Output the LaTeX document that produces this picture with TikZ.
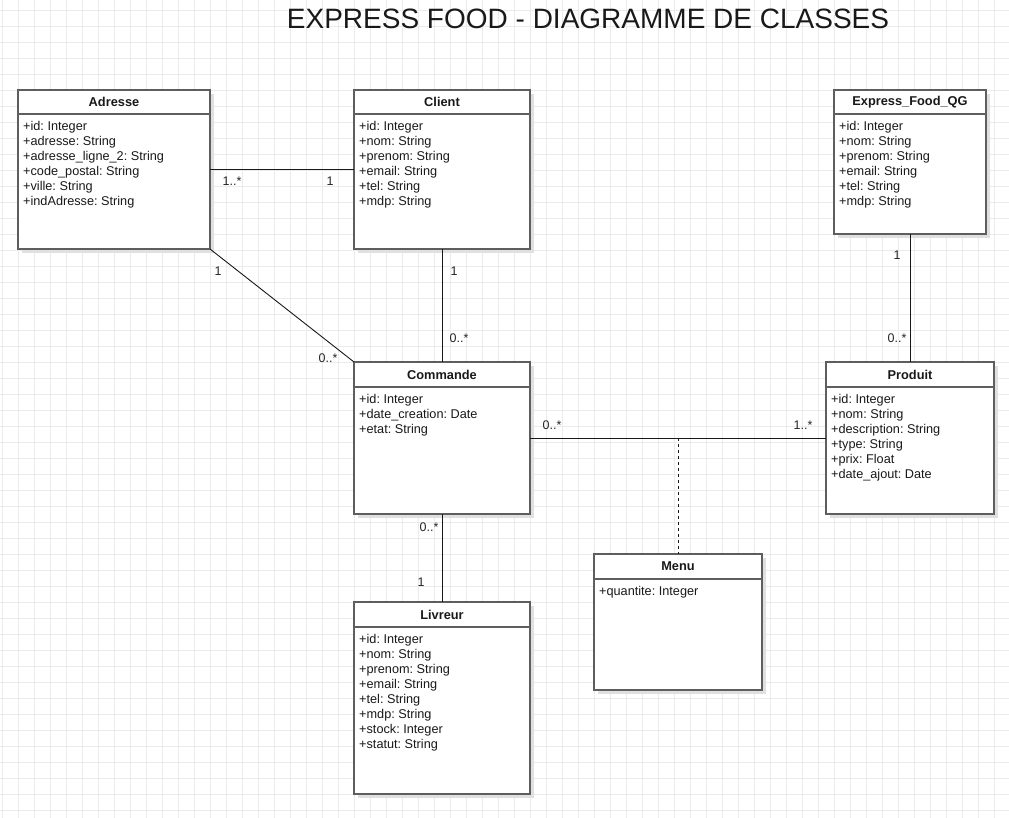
\documentclass[tikz,border=0pt]{standalone}
\usepackage{fontspec}
\setmainfont{Liberation Sans}
\usetikzlibrary{shadows}
\definecolor{gridc}{HTML}{EBEBEB}
\definecolor{boxline}{HTML}{5E5E5E}
\frenchspacing
\begin{document}
\begin{tikzpicture}[x=1pt,y=-1pt,
  cls/.style={draw=boxline, line width=1.3pt, fill=white, rectangle, anchor=north west, inner sep=0pt, outer sep=0pt,
    drop shadow={shadow xshift=4pt, shadow yshift=-4pt, fill=black!12, opacity=1}},
  sep/.style={draw=boxline, line width=1.2pt},
  title/.style={font=\bfseries\fontsize{12.8}{14}\selectfont, text=black!90},
  attrs/.style={font=\frenchspacing\fontsize{12.7}{15}\selectfont, align=left, anchor=north west, inner sep=0pt, text=black!90},
  conn/.style={draw=black!90, line width=0.9pt},
  mult/.style={font=\fontsize{12.5}{14}\selectfont, text=black!85, inner sep=0pt}]
\useasboundingbox (0,0) rectangle (1009,818);
\fill[white] (0,0) rectangle (1009,818);
\foreach \x in {2,18,...,1010} \draw[gridc, line width=0.8pt] (\x,0) -- (\x,818);
\foreach \y in {10,26,...,818} \draw[gridc, line width=0.8pt] (0,\y) -- (1009,\y);

\node[font=\fontsize{28}{32}\selectfont, text=black!90] (titre) at (588,19) {EXPRESS FOOD - DIAGRAMME DE CLASSES};

% Adresse
\node[cls, minimum width=192pt, minimum height=159pt] (adresse) at (18,90) {};
\draw[sep] ([yshift=-24pt]adresse.north west) -- ([yshift=-24pt]adresse.north east);
\node[title] (adresseT) at ([yshift=-12pt]adresse.north) {Adresse};
\node[attrs] (adresseA) at ([xshift=5pt,yshift=-31pt]adresse.north west) {+id: Integer\\+adresse: String\\+adresse\_ligne\_2: String\\+code\_postal: String\\+ville: String\\+indAdresse: String};

% Client
\node[cls, minimum width=176pt, minimum height=159pt] (client) at (354,90) {};
\draw[sep] ([yshift=-24pt]client.north west) -- ([yshift=-24pt]client.north east);
\node[title] (clientT) at ([yshift=-12pt]client.north) {Client};
\node[attrs] (clientA) at ([xshift=5pt,yshift=-31pt]client.north west) {+id: Integer\\+nom: String\\+prenom: String\\+email: String\\+tel: String\\+mdp: String};

% Express_Food_QG
\node[cls, minimum width=152pt, minimum height=144pt] (qg) at (834,90) {};
\draw[sep] ([yshift=-24pt]qg.north west) -- ([yshift=-24pt]qg.north east);
\node[title] (qgT) at ([yshift=-12pt]qg.north) {Express\_Food\_QG};
\node[attrs] (qgA) at ([xshift=5pt,yshift=-31pt]qg.north west) {+id: Integer\\+nom: String\\+prenom: String\\+email: String\\+tel: String\\+mdp: String};

% Commande
\node[cls, minimum width=176pt, minimum height=152pt] (commande) at (354,362) {};
\draw[sep] ([yshift=-25pt]commande.north west) -- ([yshift=-25pt]commande.north east);
\node[title] (commandeT) at ([yshift=-12.5pt]commande.north) {Commande};
\node[attrs] (commandeA) at ([xshift=5pt,yshift=-32pt]commande.north west) {+id: Integer\\+date\_creation: Date\\+etat: String};

% Produit
\node[cls, minimum width=168pt, minimum height=152pt] (produit) at (826,362) {};
\draw[sep] ([yshift=-25pt]produit.north west) -- ([yshift=-25pt]produit.north east);
\node[title] (produitT) at ([yshift=-12.5pt]produit.north) {Produit};
\node[attrs] (produitA) at ([xshift=5pt,yshift=-32pt]produit.north west) {+id: Integer\\+nom: String\\+description: String\\+type: String\\+prix: Float\\+date\_ajout: Date};

% Menu
\node[cls, minimum width=168pt, minimum height=136pt] (menu) at (594,554) {};
\draw[sep] ([yshift=-25pt]menu.north west) -- ([yshift=-25pt]menu.north east);
\node[title] (menuT) at ([yshift=-12.5pt]menu.north) {Menu};
\node[attrs] (menuA) at ([xshift=5pt,yshift=-32pt]menu.north west) {+quantite: Integer};

% Livreur
\node[cls, minimum width=176pt, minimum height=192pt] (livreur) at (354,602) {};
\draw[sep] ([yshift=-25pt]livreur.north west) -- ([yshift=-25pt]livreur.north east);
\node[title] (livreurT) at ([yshift=-12.5pt]livreur.north) {Livreur};
\node[attrs] (livreurA) at ([xshift=5pt,yshift=-32pt]livreur.north west) {+id: Integer\\+nom: String\\+prenom: String\\+email: String\\+tel: String\\+mdp: String\\+stock: Integer\\+statut: String};

% Connectors
\draw[conn] (adresse.east) -- (client.west);
\draw[conn] (adresse.south east) -- (commande.north west);
\draw[conn] (client.south) -- (commande.north);
\draw[conn] (qg.south) -- (produit.north);
\draw[conn] (commande.east) -- (produit.west);
\coordinate (assoc) at (menu.north |- commande.east);
\draw[conn, dashed, dash pattern=on 3pt off 3pt] (assoc) -- (menu.north);
\draw[conn] (commande.south) -- (livreur.north);

% Multiplicities
\node[mult] (m1) at (232,181) {1..*};
\node[mult] (m2) at (330,181) {1};
\node[mult] (m3) at (218,271) {1};
\node[mult] (m4) at (328,358) {0..*};
\node[mult] (m5) at (454,271) {1};
\node[mult] (m6) at (459,338) {0..*};
\node[mult] (m7) at (897,255) {1};
\node[mult] (m8) at (897,338) {0..*};
\node[mult] (m9) at (552,425) {0..*};
\node[mult] (m10) at (803,425) {1..*};
\node[mult] (m11) at (429,527) {0..*};
\node[mult] (m12) at (421,582) {1};
\end{tikzpicture}
\end{document}
